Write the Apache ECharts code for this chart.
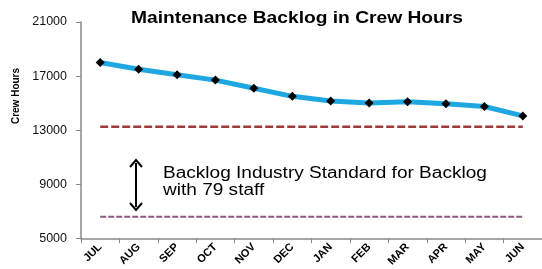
<!DOCTYPE html>
<html><head><meta charset="utf-8">
<script src="https://cdn.jsdelivr.net/npm/echarts@6/dist/echarts.min.js"></script>
<style>html,body{margin:0;padding:0;background:#fff}#c{width:542px;height:269px}</style>
</head><body><div id="c"></div>
<script>
var months = ['JUL','AUG','SEP','OCT','NOV','DEC','JAN','FEB','MAR','APR','MAY','JUN'];
var backlog = [18000,17500,17100,16700,16100,15500,15150,15000,15100,14950,14750,14050];
var upperStandard = [13250,13250,13250,13250,13250,13250,13250,13250,13250,13250,13250,13250];
var lowerStandard = [6600,6600,6600,6600,6600,6600,6600,6600,6600,6600,6600,6600];
var yTicks = [5000,9000,13000,17000,21000];
var titleText = 'Maintenance Backlog in Crew Hours';
var yName = 'Crew Hours';
var note = 'Backlog Industry Standard for Backlog\nwith 79 staff';

var chart = echarts.init(document.getElementById('c'));
chart.setOption({
  animation:false,
  grid:{left:81,right:-5,top:22,bottom:30},
  xAxis:{type:'category',data:months,boundaryGap:true,
    axisLine:{lineStyle:{color:'#888',width:1.5}},
    axisTick:{show:true,length:5,lineStyle:{color:'#888'}},
    axisLabel:{rotate:45,fontFamily:'Liberation Sans',fontSize:11,fontWeight:'bold',color:'#000',margin:7}},
  yAxis:{type:'value',min:5000,max:21000,interval:4000,
    axisLine:{show:true,lineStyle:{color:'#888',width:1.5}},
    axisTick:{show:true,length:5,lineStyle:{color:'#888'}},
    splitLine:{show:false},
    axisLabel:{fontFamily:'Liberation Sans',fontSize:12.5,color:'#111',margin:14,
      formatter:function(v){return yTicks.indexOf(v)>=0?String(v):'';}}},
  graphic:[
    {type:'text',x:297,y:19,scaleX:1.2,style:{text:titleText,font:'bold 16px "Liberation Sans"',fill:'#000',align:'center',verticalAlign:'middle'}},
    {type:'text',x:16,y:96,rotation:Math.PI/2,style:{text:yName,font:'bold 10px "Liberation Sans"',fill:'#000',align:'center',verticalAlign:'middle'}},
    {type:'text',x:163,y:165,scaleX:1.19,style:{text:note,font:'16px "Liberation Sans"',fill:'#000',lineHeight:17}},
    {type:'line',shape:{x1:136,y1:163,x2:136,y2:207},style:{stroke:'#000',lineWidth:2}},
    {type:'polyline',shape:{points:[[130,167],[136,160],[142,167]]},style:{stroke:'#000',lineWidth:2,fill:null}},
    {type:'polyline',shape:{points:[[130,203],[136,210],[142,203]]},style:{stroke:'#000',lineWidth:2,fill:null}}
  ],
  series:[
    {type:'line',data:upperStandard,symbol:'none',lineStyle:{color:'#9E3A3A',width:2.5,type:[8,3]},z:1},
    {type:'line',data:lowerStandard,symbol:'none',lineStyle:{color:'#8A5A80',width:2,type:[6,2]},z:1},
    {type:'line',data:backlog,symbol:'diamond',symbolSize:9,itemStyle:{color:'#000'},
      lineStyle:{color:'#1EA7E1',width:5},z:3}
  ]
});
</script></body></html>
